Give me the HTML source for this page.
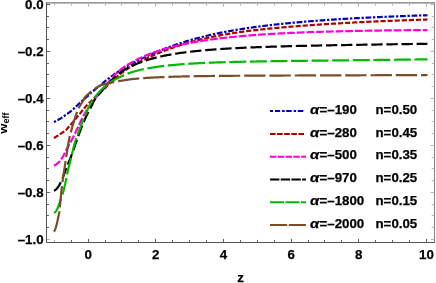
<!DOCTYPE html>
<html><head><meta charset="utf-8"><title>w_eff vs z</title>
<style>
html,body{margin:0;padding:0;background:#fff;overflow:hidden;}
body{width:436px;height:283px;position:relative;overflow:hidden;font-family:"Liberation Sans",sans-serif;font-weight:bold;color:#000;}
#wrap{position:absolute;left:0;top:0;width:436px;height:283px;will-change:transform;opacity:0.999;overflow:hidden;}
.t{position:absolute;white-space:nowrap;line-height:1;font-size:13.3px;-webkit-text-stroke:0.25px #000;}
.yl{right:392.4px;text-align:right;}
.xl{transform:translateX(-50%);}
.lg{font-size:13.3px;}
.al{display:inline-block;transform:scaleX(1.13);transform-origin:0 50%;margin-right:0.95px;font-style:italic;}
</style></head><body><div id="wrap">

<svg width="436" height="283" viewBox="0 0 436 283" style="position:absolute;left:0;top:0">
<path d="M53.90 122.09 L54.15 121.97 L54.40 121.85 L54.65 121.73 L54.90 121.61 L55.15 121.48 L55.40 121.35 L55.65 121.23 L55.90 121.10 L56.15 120.97 L56.40 120.83 L56.65 120.70 L56.90 120.56 L57.15 120.43 L57.40 120.29 L57.65 120.15 L57.90 120.01 L58.15 119.87 L58.40 119.73 L58.65 119.58 L58.90 119.44 L59.15 119.29 L59.40 119.14 L59.65 118.99 L59.90 118.84 L60.15 118.69 L60.40 118.54 L60.65 118.38 L60.90 118.23 L61.15 118.07 L61.40 117.90 L61.65 117.74 L61.90 117.57 L62.15 117.40 L62.40 117.24 L62.65 117.06 L62.90 116.89 L63.15 116.72 L63.40 116.54 L63.65 116.37 L63.90 116.19 L64.15 116.01 L64.40 115.83 L64.65 115.66 L64.90 115.48 L65.15 115.30 L65.40 115.12 L65.65 114.94 L65.90 114.76 L66.15 114.59 L66.40 114.41 L66.65 114.24 L66.90 114.06 L67.15 113.89 L67.40 113.72 L67.65 113.54 L67.90 113.37 L68.15 113.20 L68.40 113.03 L68.65 112.86 L68.90 112.68 L69.15 112.50 L69.40 112.33 L69.65 112.14 L69.90 111.96 L70.15 111.77 L70.40 111.58 L70.65 111.38 L70.90 111.18 L71.15 110.98 L71.40 110.77 L71.65 110.56 L71.90 110.34 L72.15 110.13 L72.40 109.91 L72.65 109.69 L72.90 109.46 L73.15 109.24 L73.40 109.01 L73.65 108.78 L73.90 108.55 L74.15 108.32 L74.40 108.09 L74.65 107.86 L74.90 107.62 L75.15 107.39 L75.40 107.16 L75.65 106.92 L75.90 106.69 L76.15 106.46 L76.40 106.23 L76.65 105.99 L76.90 105.75 L77.15 105.51 L77.40 105.27 L77.65 105.03 L77.90 104.78 L78.15 104.54 L78.40 104.29 L78.65 104.05 L78.90 103.80 L79.15 103.56 L79.40 103.31 L79.65 103.07 L79.90 102.83 L80.15 102.59 L80.40 102.35 L80.65 102.12 L80.90 101.88 L81.15 101.65 L81.40 101.43 L81.65 101.20 L81.90 100.98 L82.15 100.76 L82.40 100.54 L82.65 100.33 L82.90 100.11 L83.15 99.90 L83.40 99.69 L83.65 99.47 L83.90 99.26 L84.15 99.05 L84.40 98.85 L84.65 98.64 L84.90 98.43 L85.15 98.22 L85.40 98.01 L85.65 97.80 L85.90 97.59 L86.15 97.38 L86.40 97.17 L86.65 96.96 L86.90 96.74 L87.15 96.53 L87.40 96.31 L87.65 96.10 L87.90 95.88 L88.15 95.65 L88.40 95.43 L88.65 95.20 L88.90 94.97 L89.15 94.74 L89.40 94.50 L89.65 94.26 L89.90 94.01 L90.15 93.75 L90.40 93.49 L90.65 93.23 L90.90 92.98 L91.15 92.74 L91.40 92.50 L91.65 92.27 L91.90 92.05 L92.15 91.83 L92.40 91.62 L92.65 91.40 L92.90 91.19 L93.15 90.99 L93.40 90.78 L93.65 90.58 L93.90 90.38 L94.15 90.18 L94.40 89.98 L94.65 89.78 L94.90 89.58 L95.15 89.38 L95.40 89.18 L95.65 88.98 L95.90 88.78 L96.15 88.58 L96.40 88.38 L96.65 88.18 L96.90 87.98 L97.15 87.77 L97.40 87.57 L97.65 87.37 L97.90 87.17 L98.15 86.97 L98.40 86.77 L98.65 86.57 L98.90 86.37 L99.15 86.17 L99.40 85.96 L99.65 85.76 L99.90 85.55 L100.15 85.35 L100.40 85.14 L100.65 84.93 L100.90 84.72 L101.15 84.51 L101.40 84.30 L101.65 84.08 L101.90 83.87 L102.15 83.66 L102.40 83.44 L102.65 83.23 L102.90 83.02 L103.15 82.80 L103.40 82.59 L103.65 82.38 L103.90 82.17 L104.15 81.95 L104.40 81.74 L104.65 81.54 L104.90 81.33 L105.15 81.12 L105.40 80.92 L105.65 80.71 L105.90 80.51 L106.15 80.31 L106.40 80.11 L106.65 79.92 L106.90 79.72 L107.15 79.53 L107.40 79.34 L107.65 79.15 L107.90 78.96 L108.15 78.77 L108.40 78.58 L108.65 78.39 L108.90 78.21 L109.15 78.02 L109.40 77.83 L109.65 77.65 L109.90 77.47 L110.15 77.28 L110.40 77.10 L110.65 76.92 L110.90 76.74 L111.15 76.56 L111.40 76.38 L111.65 76.20 L111.90 76.02 L112.15 75.84 L112.40 75.67 L112.65 75.49 L112.90 75.31 L113.15 75.14 L113.40 74.96 L113.65 74.79 L113.90 74.62 L114.15 74.44 L114.40 74.27 L114.65 74.10 L114.90 73.93 L115.15 73.75 L115.40 73.58 L115.65 73.41 L115.90 73.24 L116.15 73.07 L116.40 72.90 L116.65 72.74 L116.90 72.57 L117.15 72.40 L117.40 72.23 L117.65 72.07 L117.90 71.90 L118.15 71.74 L118.40 71.58 L118.65 71.42 L118.90 71.26 L119.15 71.10 L119.40 70.94 L119.65 70.78 L119.90 70.62 L120.15 70.46 L120.40 70.31 L120.65 70.15 L120.90 70.00 L121.15 69.85 L121.40 69.69 L121.65 69.54 L121.90 69.39 L122.15 69.24 L122.40 69.09 L122.65 68.93 L122.90 68.78 L123.15 68.63 L123.40 68.48 L123.65 68.33 L123.90 68.19 L124.15 68.04 L124.40 67.89 L124.65 67.74 L124.90 67.59 L125.15 67.45 L125.40 67.30 L125.65 67.16 L125.90 67.01 L126.15 66.87 L126.40 66.72 L126.65 66.58 L126.90 66.44 L127.15 66.30 L127.40 66.15 L127.65 66.01 L127.90 65.87 L128.15 65.73 L128.40 65.59 L128.65 65.45 L128.90 65.32 L129.15 65.18 L129.40 65.04 L129.65 64.90 L129.90 64.77 L130.15 64.63 L130.40 64.50 L130.65 64.36 L130.90 64.23 L131.15 64.09 L131.40 63.96 L131.65 63.83 L131.90 63.70 L132.15 63.56 L132.40 63.43 L132.65 63.30 L132.90 63.17 L133.15 63.04 L133.40 62.91 L133.65 62.78 L133.90 62.65 L134.15 62.52 L134.40 62.39 L134.65 62.26 L134.90 62.13 L135.00 62.08 L136.00 61.57 L137.00 61.06 L138.00 60.56 L139.00 60.06 L140.00 59.56 L141.00 59.07 L142.00 58.59 L143.00 58.11 L144.00 57.63 L145.00 57.16 L146.00 56.69 L147.00 56.23 L148.00 55.77 L149.00 55.32 L150.00 54.87 L151.00 54.42 L152.00 53.98 L153.00 53.54 L154.00 53.11 L155.00 52.68 L156.00 52.26 L157.00 51.84 L158.00 51.42 L159.00 51.01 L160.00 50.61 L161.00 50.20 L162.00 49.80 L163.00 49.41 L164.00 49.02 L165.00 48.63 L166.00 48.25 L167.00 47.87 L168.00 47.50 L169.00 47.13 L170.00 46.76 L171.00 46.40 L172.00 46.04 L173.00 45.69 L174.00 45.34 L175.00 44.99 L176.00 44.65 L177.00 44.31 L178.00 43.97 L179.00 43.64 L180.00 43.31 L181.00 42.99 L182.00 42.67 L183.00 42.35 L184.00 42.04 L185.00 41.73 L186.00 41.42 L187.00 41.12 L188.00 40.82 L189.00 40.53 L190.00 40.23 L191.00 39.94 L192.00 39.66 L193.00 39.38 L194.00 39.10 L195.00 38.82 L196.00 38.55 L197.00 38.28 L198.00 38.01 L199.00 37.75 L200.00 37.49 L201.00 37.23 L202.00 36.98 L203.00 36.73 L204.00 36.48 L205.00 36.24 L206.00 35.99 L207.00 35.76 L208.00 35.52 L209.00 35.29 L210.00 35.06 L211.00 34.83 L212.00 34.60 L213.00 34.38 L214.00 34.16 L215.00 33.95 L216.00 33.73 L217.00 33.52 L218.00 33.31 L219.00 33.11 L220.00 32.90 L221.00 32.70 L222.00 32.50 L223.00 32.31 L224.00 32.11 L225.00 31.92 L226.00 31.73 L227.00 31.54 L228.00 31.36 L229.00 31.17 L230.00 30.99 L231.00 30.81 L232.00 30.64 L233.00 30.46 L234.00 30.29 L235.00 30.12 L236.00 29.95 L237.00 29.78 L238.00 29.62 L239.00 29.45 L240.00 29.29 L241.00 29.13 L242.00 28.97 L243.00 28.82 L244.00 28.66 L245.00 28.51 L246.00 28.36 L247.00 28.21 L248.00 28.06 L249.00 27.92 L250.00 27.77 L251.00 27.63 L252.00 27.49 L253.00 27.35 L254.00 27.21 L255.00 27.07 L256.00 26.93 L257.00 26.80 L258.00 26.67 L259.00 26.53 L260.00 26.40 L261.00 26.27 L262.00 26.15 L263.00 26.02 L264.00 25.89 L265.00 25.77 L266.00 25.65 L267.00 25.53 L268.00 25.41 L269.00 25.29 L270.00 25.17 L271.00 25.05 L272.00 24.94 L273.00 24.82 L274.00 24.71 L275.00 24.60 L276.00 24.49 L277.00 24.38 L278.00 24.27 L279.00 24.16 L280.00 24.05 L281.00 23.95 L282.00 23.84 L283.00 23.74 L284.00 23.64 L285.00 23.53 L286.00 23.43 L287.00 23.33 L288.00 23.23 L289.00 23.14 L290.00 23.04 L291.00 22.94 L292.00 22.85 L293.00 22.75 L294.00 22.66 L295.00 22.57 L296.00 22.47 L297.00 22.38 L298.00 22.29 L299.00 22.20 L300.00 22.12 L301.00 22.03 L302.00 21.94 L303.00 21.86 L304.00 21.77 L305.00 21.69 L306.00 21.60 L307.00 21.52 L308.00 21.44 L309.00 21.35 L310.00 21.27 L311.00 21.19 L312.00 21.11 L313.00 21.04 L314.00 20.96 L315.00 20.88 L316.00 20.80 L317.00 20.73 L318.00 20.65 L319.00 20.58 L320.00 20.50 L321.00 20.43 L322.00 20.36 L323.00 20.29 L324.00 20.21 L325.00 20.14 L326.00 20.07 L327.00 20.00 L328.00 19.93 L329.00 19.87 L330.00 19.80 L331.00 19.73 L332.00 19.66 L333.00 19.60 L334.00 19.53 L335.00 19.47 L336.00 19.40 L337.00 19.34 L338.00 19.28 L339.00 19.21 L340.00 19.15 L341.00 19.09 L342.00 19.03 L343.00 18.97 L344.00 18.91 L345.00 18.85 L346.00 18.79 L347.00 18.73 L348.00 18.67 L349.00 18.61 L350.00 18.55 L351.00 18.50 L352.00 18.44 L353.00 18.38 L354.00 18.33 L355.00 18.27 L356.00 18.22 L357.00 18.17 L358.00 18.11 L359.00 18.06 L360.00 18.01 L361.00 17.95 L362.00 17.90 L363.00 17.85 L364.00 17.80 L365.00 17.75 L366.00 17.70 L367.00 17.65 L368.00 17.60 L369.00 17.55 L370.00 17.50 L371.00 17.45 L372.00 17.40 L373.00 17.36 L374.00 17.31 L375.00 17.26 L376.00 17.21 L377.00 17.17 L378.00 17.12 L379.00 17.08 L380.00 17.03 L381.00 16.99 L382.00 16.94 L383.00 16.90 L384.00 16.86 L385.00 16.81 L386.00 16.77 L387.00 16.73 L388.00 16.68 L389.00 16.64 L390.00 16.60 L391.00 16.56 L392.00 16.52 L393.00 16.48 L394.00 16.44 L395.00 16.40 L396.00 16.36 L397.00 16.32 L398.00 16.28 L399.00 16.24 L400.00 16.20 L401.00 16.16 L402.00 16.13 L403.00 16.09 L404.00 16.05 L405.00 16.01 L406.00 15.98 L407.00 15.94 L408.00 15.90 L409.00 15.87 L410.00 15.83 L411.00 15.80 L412.00 15.76 L413.00 15.73 L414.00 15.69 L415.00 15.66 L416.00 15.62 L417.00 15.59 L418.00 15.56 L419.00 15.52 L420.00 15.49 L421.00 15.46 L422.00 15.42 L423.00 15.39 L424.00 15.36 L425.00 15.33 L426.00 15.30 L427.00 15.26 L427.50 15.25" fill="none" stroke="#0000b4" stroke-width="2.2" stroke-dasharray="2.317 1.712 5.741 1.743" stroke-dashoffset="0" stroke-linejoin="round"/>
<path d="M53.90 138.04 L54.15 137.89 L54.40 137.74 L54.65 137.59 L54.90 137.44 L55.15 137.29 L55.40 137.14 L55.65 136.99 L55.90 136.83 L56.15 136.68 L56.40 136.52 L56.65 136.37 L56.90 136.21 L57.15 136.05 L57.40 135.89 L57.65 135.73 L57.90 135.57 L58.15 135.41 L58.40 135.25 L58.65 135.09 L58.90 134.93 L59.15 134.76 L59.40 134.60 L59.65 134.43 L59.90 134.27 L60.15 134.10 L60.40 133.93 L60.65 133.77 L60.90 133.60 L61.15 133.44 L61.40 133.28 L61.65 133.11 L61.90 132.95 L62.15 132.79 L62.40 132.62 L62.65 132.45 L62.90 132.28 L63.15 132.11 L63.40 131.94 L63.65 131.76 L63.90 131.58 L64.15 131.40 L64.40 131.21 L64.65 131.01 L64.90 130.81 L65.15 130.61 L65.40 130.40 L65.65 130.18 L65.90 129.95 L66.15 129.72 L66.40 129.48 L66.65 129.22 L66.90 128.97 L67.15 128.70 L67.40 128.43 L67.65 128.16 L67.90 127.88 L68.15 127.60 L68.40 127.32 L68.65 127.03 L68.90 126.74 L69.15 126.45 L69.40 126.16 L69.65 125.87 L69.90 125.58 L70.15 125.30 L70.40 125.01 L70.65 124.73 L70.90 124.45 L71.15 124.16 L71.40 123.87 L71.65 123.58 L71.90 123.29 L72.15 123.00 L72.40 122.71 L72.65 122.42 L72.90 122.12 L73.15 121.82 L73.40 121.53 L73.65 121.23 L73.90 120.93 L74.15 120.63 L74.40 120.33 L74.65 120.03 L74.90 119.73 L75.15 119.42 L75.40 119.12 L75.65 118.82 L75.90 118.51 L76.15 118.21 L76.40 117.90 L76.65 117.60 L76.90 117.29 L77.15 116.99 L77.40 116.68 L77.65 116.38 L77.90 116.07 L78.15 115.77 L78.40 115.46 L78.65 115.16 L78.90 114.85 L79.15 114.55 L79.40 114.25 L79.65 113.94 L79.90 113.64 L80.15 113.34 L80.40 113.04 L80.65 112.73 L80.90 112.42 L81.15 112.12 L81.40 111.81 L81.65 111.50 L81.90 111.18 L82.15 110.87 L82.40 110.56 L82.65 110.25 L82.90 109.94 L83.15 109.62 L83.40 109.31 L83.65 109.01 L83.90 108.70 L84.15 108.40 L84.40 108.09 L84.65 107.79 L84.90 107.50 L85.15 107.20 L85.40 106.91 L85.65 106.63 L85.90 106.34 L86.15 106.06 L86.40 105.79 L86.65 105.52 L86.90 105.26 L87.15 104.99 L87.40 104.73 L87.65 104.48 L87.90 104.22 L88.15 103.97 L88.40 103.72 L88.65 103.47 L88.90 103.22 L89.15 102.98 L89.40 102.73 L89.65 102.49 L89.90 102.25 L90.15 102.01 L90.40 101.77 L90.65 101.53 L90.90 101.28 L91.15 101.04 L91.40 100.80 L91.65 100.56 L91.90 100.32 L92.15 100.08 L92.40 99.84 L92.65 99.60 L92.90 99.36 L93.15 99.12 L93.40 98.88 L93.65 98.65 L93.90 98.41 L94.15 98.18 L94.40 97.94 L94.65 97.71 L94.90 97.47 L95.15 97.24 L95.40 97.01 L95.65 96.77 L95.90 96.54 L96.15 96.31 L96.40 96.08 L96.65 95.84 L96.90 95.61 L97.15 95.38 L97.40 95.15 L97.65 94.91 L97.90 94.68 L98.15 94.45 L98.40 94.22 L98.65 93.99 L98.90 93.75 L99.15 93.52 L99.40 93.29 L99.65 93.05 L99.90 92.82 L100.15 92.59 L100.40 92.35 L100.65 92.12 L100.90 91.89 L101.15 91.66 L101.40 91.43 L101.65 91.20 L101.90 90.97 L102.15 90.74 L102.40 90.51 L102.65 90.28 L102.90 90.05 L103.15 89.82 L103.40 89.58 L103.65 89.35 L103.90 89.12 L104.15 88.89 L104.40 88.66 L104.65 88.43 L104.90 88.19 L105.15 87.96 L105.40 87.73 L105.65 87.49 L105.90 87.25 L106.15 87.02 L106.40 86.78 L106.65 86.54 L106.90 86.30 L107.15 86.06 L107.40 85.82 L107.65 85.58 L107.90 85.33 L108.15 85.08 L108.40 84.83 L108.65 84.59 L108.90 84.34 L109.15 84.09 L109.40 83.84 L109.65 83.59 L109.90 83.34 L110.15 83.09 L110.40 82.84 L110.65 82.60 L110.90 82.36 L111.15 82.11 L111.40 81.87 L111.65 81.64 L111.90 81.40 L112.15 81.17 L112.40 80.93 L112.65 80.70 L112.90 80.46 L113.15 80.23 L113.40 80.00 L113.65 79.76 L113.90 79.53 L114.15 79.30 L114.40 79.07 L114.65 78.84 L114.90 78.61 L115.15 78.38 L115.40 78.15 L115.65 77.92 L115.90 77.70 L116.15 77.47 L116.40 77.25 L116.65 77.03 L116.90 76.80 L117.15 76.58 L117.40 76.37 L117.65 76.15 L117.90 75.93 L118.15 75.72 L118.40 75.51 L118.65 75.30 L118.90 75.09 L119.15 74.89 L119.40 74.68 L119.65 74.48 L119.90 74.28 L120.15 74.09 L120.40 73.89 L120.65 73.70 L120.90 73.50 L121.15 73.31 L121.40 73.12 L121.65 72.93 L121.90 72.74 L122.15 72.55 L122.40 72.36 L122.65 72.18 L122.90 71.99 L123.15 71.81 L123.40 71.62 L123.65 71.44 L123.90 71.26 L124.15 71.08 L124.40 70.90 L124.65 70.73 L124.90 70.55 L125.15 70.38 L125.40 70.21 L125.65 70.03 L125.90 69.86 L126.15 69.69 L126.40 69.53 L126.65 69.36 L126.90 69.19 L127.15 69.03 L127.40 68.87 L127.65 68.70 L127.90 68.54 L128.15 68.38 L128.40 68.23 L128.65 68.07 L128.90 67.91 L129.15 67.76 L129.40 67.60 L129.65 67.45 L129.90 67.30 L130.15 67.15 L130.40 67.00 L130.65 66.85 L130.90 66.70 L131.15 66.56 L131.40 66.41 L131.65 66.26 L131.90 66.12 L132.15 65.97 L132.40 65.83 L132.65 65.69 L132.90 65.55 L133.15 65.40 L133.40 65.26 L133.65 65.12 L133.90 64.98 L134.15 64.84 L134.40 64.70 L134.65 64.56 L134.90 64.43 L135.00 64.37 L136.00 63.82 L137.00 63.28 L138.00 62.74 L139.00 62.21 L140.00 61.68 L141.00 61.16 L142.00 60.65 L143.00 60.15 L144.00 59.65 L145.00 59.16 L146.00 58.67 L147.00 58.19 L148.00 57.72 L149.00 57.25 L150.00 56.79 L151.00 56.34 L152.00 55.89 L153.00 55.44 L154.00 55.00 L155.00 54.57 L156.00 54.14 L157.00 53.71 L158.00 53.30 L159.00 52.88 L160.00 52.47 L161.00 52.07 L162.00 51.67 L163.00 51.28 L164.00 50.89 L165.00 50.50 L166.00 50.12 L167.00 49.75 L168.00 49.38 L169.00 49.01 L170.00 48.65 L171.00 48.29 L172.00 47.94 L173.00 47.59 L174.00 47.25 L175.00 46.91 L176.00 46.57 L177.00 46.24 L178.00 45.91 L179.00 45.59 L180.00 45.27 L181.00 44.96 L182.00 44.65 L183.00 44.34 L184.00 44.03 L185.00 43.74 L186.00 43.44 L187.00 43.15 L188.00 42.86 L189.00 42.58 L190.00 42.29 L191.00 42.02 L192.00 41.74 L193.00 41.47 L194.00 41.21 L195.00 40.94 L196.00 40.68 L197.00 40.43 L198.00 40.17 L199.00 39.92 L200.00 39.68 L201.00 39.43 L202.00 39.19 L203.00 38.96 L204.00 38.72 L205.00 38.49 L206.00 38.26 L207.00 38.04 L208.00 37.82 L209.00 37.60 L210.00 37.38 L211.00 37.17 L212.00 36.96 L213.00 36.75 L214.00 36.54 L215.00 36.34 L216.00 36.14 L217.00 35.95 L218.00 35.75 L219.00 35.56 L220.00 35.37 L221.00 35.19 L222.00 35.00 L223.00 34.82 L224.00 34.64 L225.00 34.47 L226.00 34.29 L227.00 34.12 L228.00 33.95 L229.00 33.79 L230.00 33.62 L231.00 33.46 L232.00 33.30 L233.00 33.15 L234.00 32.99 L235.00 32.84 L236.00 32.69 L237.00 32.54 L238.00 32.39 L239.00 32.25 L240.00 32.11 L241.00 31.97 L242.00 31.83 L243.00 31.69 L244.00 31.56 L245.00 31.42 L246.00 31.29 L247.00 31.16 L248.00 31.03 L249.00 30.91 L250.00 30.78 L251.00 30.66 L252.00 30.53 L253.00 30.41 L254.00 30.29 L255.00 30.18 L256.00 30.06 L257.00 29.94 L258.00 29.83 L259.00 29.72 L260.00 29.61 L261.00 29.50 L262.00 29.39 L263.00 29.28 L264.00 29.17 L265.00 29.07 L266.00 28.96 L267.00 28.86 L268.00 28.76 L269.00 28.66 L270.00 28.56 L271.00 28.46 L272.00 28.36 L273.00 28.27 L274.00 28.17 L275.00 28.07 L276.00 27.98 L277.00 27.89 L278.00 27.80 L279.00 27.70 L280.00 27.61 L281.00 27.52 L282.00 27.44 L283.00 27.35 L284.00 27.26 L285.00 27.17 L286.00 27.09 L287.00 27.00 L288.00 26.92 L289.00 26.84 L290.00 26.75 L291.00 26.67 L292.00 26.59 L293.00 26.51 L294.00 26.43 L295.00 26.35 L296.00 26.27 L297.00 26.19 L298.00 26.12 L299.00 26.04 L300.00 25.96 L301.00 25.89 L302.00 25.81 L303.00 25.74 L304.00 25.66 L305.00 25.59 L306.00 25.52 L307.00 25.44 L308.00 25.37 L309.00 25.30 L310.00 25.23 L311.00 25.16 L312.00 25.09 L313.00 25.02 L314.00 24.95 L315.00 24.88 L316.00 24.81 L317.00 24.74 L318.00 24.67 L319.00 24.61 L320.00 24.54 L321.00 24.47 L322.00 24.41 L323.00 24.34 L324.00 24.28 L325.00 24.21 L326.00 24.15 L327.00 24.09 L328.00 24.02 L329.00 23.96 L330.00 23.90 L331.00 23.84 L332.00 23.77 L333.00 23.71 L334.00 23.65 L335.00 23.59 L336.00 23.53 L337.00 23.47 L338.00 23.41 L339.00 23.35 L340.00 23.30 L341.00 23.24 L342.00 23.18 L343.00 23.12 L344.00 23.07 L345.00 23.01 L346.00 22.95 L347.00 22.90 L348.00 22.84 L349.00 22.79 L350.00 22.73 L351.00 22.68 L352.00 22.63 L353.00 22.57 L354.00 22.52 L355.00 22.47 L356.00 22.41 L357.00 22.36 L358.00 22.31 L359.00 22.26 L360.00 22.21 L361.00 22.16 L362.00 22.11 L363.00 22.06 L364.00 22.01 L365.00 21.96 L366.00 21.91 L367.00 21.86 L368.00 21.81 L369.00 21.77 L370.00 21.72 L371.00 21.67 L372.00 21.63 L373.00 21.58 L374.00 21.53 L375.00 21.49 L376.00 21.44 L377.00 21.40 L378.00 21.35 L379.00 21.31 L380.00 21.26 L381.00 21.22 L382.00 21.18 L383.00 21.13 L384.00 21.09 L385.00 21.05 L386.00 21.00 L387.00 20.96 L388.00 20.92 L389.00 20.88 L390.00 20.84 L391.00 20.80 L392.00 20.76 L393.00 20.72 L394.00 20.68 L395.00 20.64 L396.00 20.60 L397.00 20.56 L398.00 20.52 L399.00 20.48 L400.00 20.44 L401.00 20.40 L402.00 20.37 L403.00 20.33 L404.00 20.29 L405.00 20.26 L406.00 20.22 L407.00 20.18 L408.00 20.15 L409.00 20.11 L410.00 20.08 L411.00 20.04 L412.00 20.01 L413.00 19.97 L414.00 19.94 L415.00 19.90 L416.00 19.87 L417.00 19.84 L418.00 19.80 L419.00 19.77 L420.00 19.74 L421.00 19.70 L422.00 19.67 L423.00 19.64 L424.00 19.61 L425.00 19.58 L426.00 19.55 L427.00 19.51 L427.50 19.50" fill="none" stroke="#ac0000" stroke-width="2.2" stroke-dasharray="5.194 1.898" stroke-dashoffset="0" stroke-linejoin="round"/>
<path d="M53.90 165.66 L54.15 165.56 L54.40 165.46 L54.65 165.33 L54.90 165.20 L55.15 165.06 L55.40 164.91 L55.65 164.75 L55.90 164.58 L56.15 164.40 L56.40 164.22 L56.65 164.02 L56.90 163.82 L57.15 163.62 L57.40 163.40 L57.65 163.18 L57.90 162.95 L58.15 162.72 L58.40 162.49 L58.65 162.24 L58.90 162.00 L59.15 161.75 L59.40 161.49 L59.65 161.23 L59.90 160.95 L60.15 160.65 L60.40 160.35 L60.65 160.03 L60.90 159.70 L61.15 159.36 L61.40 159.01 L61.65 158.64 L61.90 158.27 L62.15 157.89 L62.40 157.49 L62.65 157.09 L62.90 156.68 L63.15 156.26 L63.40 155.82 L63.65 155.34 L63.90 154.82 L64.15 154.27 L64.40 153.70 L64.65 153.13 L64.90 152.56 L65.15 152.02 L65.40 151.50 L65.65 151.01 L65.90 150.53 L66.15 150.06 L66.40 149.59 L66.65 149.14 L66.90 148.69 L67.15 148.24 L67.40 147.80 L67.65 147.36 L67.90 146.93 L68.15 146.49 L68.40 146.06 L68.65 145.62 L68.90 145.19 L69.15 144.75 L69.40 144.31 L69.65 143.86 L69.90 143.41 L70.15 142.95 L70.40 142.49 L70.65 142.02 L70.90 141.54 L71.15 141.06 L71.40 140.58 L71.65 140.10 L71.90 139.61 L72.15 139.13 L72.40 138.64 L72.65 138.14 L72.90 137.65 L73.15 137.15 L73.40 136.66 L73.65 136.16 L73.90 135.66 L74.15 135.16 L74.40 134.65 L74.65 134.15 L74.90 133.64 L75.15 133.14 L75.40 132.63 L75.65 132.13 L75.90 131.62 L76.15 131.11 L76.40 130.61 L76.65 130.10 L76.90 129.59 L77.15 129.08 L77.40 128.56 L77.65 128.03 L77.90 127.50 L78.15 126.96 L78.40 126.42 L78.65 125.88 L78.90 125.34 L79.15 124.79 L79.40 124.25 L79.65 123.70 L79.90 123.16 L80.15 122.61 L80.40 122.07 L80.65 121.53 L80.90 121.00 L81.15 120.47 L81.40 119.94 L81.65 119.43 L81.90 118.91 L82.15 118.41 L82.40 117.91 L82.65 117.42 L82.90 116.94 L83.15 116.47 L83.40 116.01 L83.65 115.56 L83.90 115.13 L84.15 114.70 L84.40 114.27 L84.65 113.85 L84.90 113.43 L85.15 113.01 L85.40 112.60 L85.65 112.19 L85.90 111.79 L86.15 111.38 L86.40 110.99 L86.65 110.59 L86.90 110.20 L87.15 109.81 L87.40 109.43 L87.65 109.04 L87.90 108.66 L88.15 108.29 L88.40 107.91 L88.65 107.54 L88.90 107.17 L89.15 106.81 L89.40 106.44 L89.65 106.08 L89.90 105.72 L90.15 105.37 L90.40 105.01 L90.65 104.66 L90.90 104.31 L91.15 103.96 L91.40 103.61 L91.65 103.27 L91.90 102.92 L92.15 102.58 L92.40 102.24 L92.65 101.90 L92.90 101.56 L93.15 101.23 L93.40 100.89 L93.65 100.56 L93.90 100.22 L94.15 99.89 L94.40 99.56 L94.65 99.23 L94.90 98.90 L95.15 98.57 L95.40 98.24 L95.65 97.91 L95.90 97.59 L96.15 97.26 L96.40 96.93 L96.65 96.60 L96.90 96.28 L97.15 95.96 L97.40 95.64 L97.65 95.32 L97.90 95.01 L98.15 94.70 L98.40 94.39 L98.65 94.08 L98.90 93.78 L99.15 93.48 L99.40 93.17 L99.65 92.87 L99.90 92.58 L100.15 92.28 L100.40 91.98 L100.65 91.69 L100.90 91.39 L101.15 91.10 L101.40 90.81 L101.65 90.52 L101.90 90.23 L102.15 89.94 L102.40 89.65 L102.65 89.36 L102.90 89.07 L103.15 88.78 L103.40 88.49 L103.65 88.20 L103.90 87.91 L104.15 87.62 L104.40 87.33 L104.65 87.04 L104.90 86.75 L105.15 86.46 L105.40 86.17 L105.65 85.87 L105.90 85.58 L106.15 85.28 L106.40 84.98 L106.65 84.68 L106.90 84.38 L107.15 84.07 L107.40 83.77 L107.65 83.45 L107.90 83.14 L108.15 82.82 L108.40 82.50 L108.65 82.18 L108.90 81.86 L109.15 81.54 L109.40 81.22 L109.65 80.89 L109.90 80.57 L110.15 80.25 L110.40 79.92 L110.65 79.60 L110.90 79.29 L111.15 78.97 L111.40 78.65 L111.65 78.34 L111.90 78.03 L112.15 77.73 L112.40 77.43 L112.65 77.13 L112.90 76.84 L113.15 76.55 L113.40 76.27 L113.65 75.99 L113.90 75.72 L114.15 75.46 L114.40 75.20 L114.65 74.95 L114.90 74.70 L115.15 74.46 L115.40 74.22 L115.65 73.97 L115.90 73.73 L116.15 73.50 L116.40 73.26 L116.65 73.03 L116.90 72.80 L117.15 72.57 L117.40 72.34 L117.65 72.11 L117.90 71.89 L118.15 71.67 L118.40 71.45 L118.65 71.23 L118.90 71.01 L119.15 70.80 L119.40 70.59 L119.65 70.38 L119.90 70.17 L120.15 69.97 L120.40 69.76 L120.65 69.56 L120.90 69.36 L121.15 69.17 L121.40 68.97 L121.65 68.78 L121.90 68.59 L122.15 68.40 L122.40 68.22 L122.65 68.03 L122.90 67.85 L123.15 67.67 L123.40 67.49 L123.65 67.31 L123.90 67.14 L124.15 66.97 L124.40 66.80 L124.65 66.63 L124.90 66.46 L125.15 66.30 L125.40 66.14 L125.65 65.97 L125.90 65.81 L126.15 65.66 L126.40 65.50 L126.65 65.34 L126.90 65.19 L127.15 65.04 L127.40 64.89 L127.65 64.74 L127.90 64.59 L128.15 64.44 L128.40 64.29 L128.65 64.15 L128.90 64.00 L129.15 63.86 L129.40 63.72 L129.65 63.57 L129.90 63.43 L130.15 63.29 L130.40 63.15 L130.65 63.01 L130.90 62.87 L131.15 62.73 L131.40 62.59 L131.65 62.45 L131.90 62.32 L132.15 62.18 L132.40 62.04 L132.65 61.91 L132.90 61.77 L133.15 61.63 L133.40 61.50 L133.65 61.36 L133.90 61.23 L134.15 61.09 L134.40 60.96 L134.65 60.83 L134.90 60.70 L135.00 60.64 L136.00 60.12 L137.00 59.60 L138.00 59.09 L139.00 58.60 L140.00 58.12 L141.00 57.65 L142.00 57.19 L143.00 56.74 L144.00 56.30 L145.00 55.87 L146.00 55.45 L147.00 55.04 L148.00 54.63 L149.00 54.24 L150.00 53.85 L151.00 53.47 L152.00 53.09 L153.00 52.73 L154.00 52.37 L155.00 52.02 L156.00 51.67 L157.00 51.33 L158.00 51.00 L159.00 50.67 L160.00 50.35 L161.00 50.04 L162.00 49.73 L163.00 49.42 L164.00 49.13 L165.00 48.83 L166.00 48.54 L167.00 48.26 L168.00 47.98 L169.00 47.71 L170.00 47.44 L171.00 47.18 L172.00 46.92 L173.00 46.66 L174.00 46.41 L175.00 46.17 L176.00 45.93 L177.00 45.69 L178.00 45.45 L179.00 45.22 L180.00 45.00 L181.00 44.77 L182.00 44.55 L183.00 44.34 L184.00 44.13 L185.00 43.92 L186.00 43.71 L187.00 43.51 L188.00 43.31 L189.00 43.12 L190.00 42.92 L191.00 42.73 L192.00 42.55 L193.00 42.36 L194.00 42.18 L195.00 42.00 L196.00 41.83 L197.00 41.66 L198.00 41.49 L199.00 41.32 L200.00 41.15 L201.00 40.99 L202.00 40.83 L203.00 40.68 L204.00 40.52 L205.00 40.37 L206.00 40.22 L207.00 40.07 L208.00 39.92 L209.00 39.78 L210.00 39.64 L211.00 39.50 L212.00 39.36 L213.00 39.23 L214.00 39.09 L215.00 38.96 L216.00 38.83 L217.00 38.70 L218.00 38.58 L219.00 38.46 L220.00 38.33 L221.00 38.21 L222.00 38.09 L223.00 37.98 L224.00 37.86 L225.00 37.75 L226.00 37.64 L227.00 37.53 L228.00 37.42 L229.00 37.31 L230.00 37.21 L231.00 37.10 L232.00 37.00 L233.00 36.90 L234.00 36.80 L235.00 36.70 L236.00 36.61 L237.00 36.51 L238.00 36.42 L239.00 36.33 L240.00 36.23 L241.00 36.14 L242.00 36.06 L243.00 35.97 L244.00 35.88 L245.00 35.80 L246.00 35.71 L247.00 35.63 L248.00 35.55 L249.00 35.47 L250.00 35.39 L251.00 35.31 L252.00 35.24 L253.00 35.16 L254.00 35.08 L255.00 35.01 L256.00 34.94 L257.00 34.87 L258.00 34.79 L259.00 34.72 L260.00 34.66 L261.00 34.59 L262.00 34.52 L263.00 34.45 L264.00 34.39 L265.00 34.32 L266.00 34.26 L267.00 34.20 L268.00 34.14 L269.00 34.07 L270.00 34.01 L271.00 33.96 L272.00 33.90 L273.00 33.84 L274.00 33.78 L275.00 33.72 L276.00 33.67 L277.00 33.61 L278.00 33.56 L279.00 33.51 L280.00 33.45 L281.00 33.40 L282.00 33.35 L283.00 33.30 L284.00 33.25 L285.00 33.20 L286.00 33.15 L287.00 33.10 L288.00 33.06 L289.00 33.01 L290.00 32.96 L291.00 32.92 L292.00 32.87 L293.00 32.83 L294.00 32.78 L295.00 32.74 L296.00 32.70 L297.00 32.66 L298.00 32.61 L299.00 32.57 L300.00 32.53 L301.00 32.49 L302.00 32.45 L303.00 32.41 L304.00 32.37 L305.00 32.34 L306.00 32.30 L307.00 32.26 L308.00 32.23 L309.00 32.19 L310.00 32.15 L311.00 32.12 L312.00 32.08 L313.00 32.05 L314.00 32.02 L315.00 31.98 L316.00 31.95 L317.00 31.92 L318.00 31.89 L319.00 31.85 L320.00 31.82 L321.00 31.79 L322.00 31.76 L323.00 31.73 L324.00 31.70 L325.00 31.67 L326.00 31.64 L327.00 31.61 L328.00 31.59 L329.00 31.56 L330.00 31.53 L331.00 31.50 L332.00 31.48 L333.00 31.45 L334.00 31.42 L335.00 31.40 L336.00 31.37 L337.00 31.35 L338.00 31.32 L339.00 31.30 L340.00 31.28 L341.00 31.25 L342.00 31.23 L343.00 31.20 L344.00 31.18 L345.00 31.16 L346.00 31.14 L347.00 31.12 L348.00 31.09 L349.00 31.07 L350.00 31.05 L351.00 31.03 L352.00 31.01 L353.00 30.99 L354.00 30.97 L355.00 30.95 L356.00 30.93 L357.00 30.91 L358.00 30.89 L359.00 30.87 L360.00 30.86 L361.00 30.84 L362.00 30.82 L363.00 30.80 L364.00 30.78 L365.00 30.77 L366.00 30.75 L367.00 30.73 L368.00 30.72 L369.00 30.70 L370.00 30.68 L371.00 30.67 L372.00 30.65 L373.00 30.64 L374.00 30.62 L375.00 30.61 L376.00 30.59 L377.00 30.58 L378.00 30.56 L379.00 30.55 L380.00 30.54 L381.00 30.52 L382.00 30.51 L383.00 30.49 L384.00 30.48 L385.00 30.47 L386.00 30.46 L387.00 30.44 L388.00 30.43 L389.00 30.42 L390.00 30.41 L391.00 30.39 L392.00 30.38 L393.00 30.37 L394.00 30.36 L395.00 30.35 L396.00 30.34 L397.00 30.33 L398.00 30.32 L399.00 30.31 L400.00 30.30 L401.00 30.28 L402.00 30.27 L403.00 30.26 L404.00 30.26 L405.00 30.25 L406.00 30.24 L407.00 30.23 L408.00 30.22 L409.00 30.21 L410.00 30.20 L411.00 30.19 L412.00 30.18 L413.00 30.17 L414.00 30.17 L415.00 30.16 L416.00 30.15 L417.00 30.14 L418.00 30.13 L419.00 30.13 L420.00 30.12 L421.00 30.11 L422.00 30.10 L423.00 30.10 L424.00 30.09 L425.00 30.08 L426.00 30.08 L427.00 30.07 L427.50 30.07" fill="none" stroke="#ff00d8" stroke-width="2.2" stroke-dasharray="7.736 1.959" stroke-dashoffset="0" stroke-linejoin="round"/>
<path d="M53.90 190.80 L54.15 190.68 L54.40 190.55 L54.65 190.40 L54.90 190.23 L55.15 190.06 L55.40 189.88 L55.65 189.68 L55.90 189.47 L56.15 189.23 L56.40 188.98 L56.65 188.72 L56.90 188.44 L57.15 188.16 L57.40 187.86 L57.65 187.55 L57.90 187.22 L58.15 186.87 L58.40 186.51 L58.65 186.14 L58.90 185.76 L59.15 185.36 L59.40 184.94 L59.65 184.51 L59.90 184.06 L60.15 183.59 L60.40 183.11 L60.65 182.61 L60.90 182.09 L61.15 181.55 L61.40 180.99 L61.65 180.41 L61.90 179.81 L62.15 179.20 L62.40 178.58 L62.65 177.94 L62.90 177.29 L63.15 176.64 L63.40 175.97 L63.65 175.31 L63.90 174.64 L64.15 173.97 L64.40 173.31 L64.65 172.65 L64.90 171.99 L65.15 171.34 L65.40 170.70 L65.65 170.06 L65.90 169.43 L66.15 168.79 L66.40 168.14 L66.65 167.50 L66.90 166.86 L67.15 166.22 L67.40 165.58 L67.65 164.93 L67.90 164.29 L68.15 163.65 L68.40 163.02 L68.65 162.38 L68.90 161.75 L69.15 161.12 L69.40 160.51 L69.65 159.90 L69.90 159.29 L70.15 158.68 L70.40 158.07 L70.65 157.46 L70.90 156.84 L71.15 156.21 L71.40 155.56 L71.65 154.90 L71.90 154.23 L72.15 153.55 L72.40 152.85 L72.65 152.15 L72.90 151.44 L73.15 150.72 L73.40 150.00 L73.65 149.28 L73.90 148.55 L74.15 147.82 L74.40 147.10 L74.65 146.38 L74.90 145.66 L75.15 144.94 L75.40 144.23 L75.65 143.51 L75.90 142.79 L76.15 142.07 L76.40 141.34 L76.65 140.62 L76.90 139.90 L77.15 139.17 L77.40 138.45 L77.65 137.74 L77.90 137.03 L78.15 136.33 L78.40 135.63 L78.65 134.94 L78.90 134.27 L79.15 133.60 L79.40 132.94 L79.65 132.27 L79.90 131.61 L80.15 130.96 L80.40 130.30 L80.65 129.65 L80.90 129.00 L81.15 128.36 L81.40 127.72 L81.65 127.08 L81.90 126.45 L82.15 125.82 L82.40 125.19 L82.65 124.58 L82.90 123.96 L83.15 123.35 L83.40 122.75 L83.65 122.15 L83.90 121.56 L84.15 120.98 L84.40 120.40 L84.65 119.83 L84.90 119.27 L85.15 118.71 L85.40 118.16 L85.65 117.62 L85.90 117.09 L86.15 116.57 L86.40 116.05 L86.65 115.54 L86.90 115.03 L87.15 114.53 L87.40 114.04 L87.65 113.55 L87.90 113.06 L88.15 112.57 L88.40 112.09 L88.65 111.61 L88.90 111.13 L89.15 110.66 L89.40 110.18 L89.65 109.70 L89.90 109.22 L90.15 108.74 L90.40 108.26 L90.65 107.78 L90.90 107.29 L91.15 106.80 L91.40 106.30 L91.65 105.79 L91.90 105.28 L92.15 104.75 L92.40 104.22 L92.65 103.68 L92.90 103.15 L93.15 102.63 L93.40 102.12 L93.65 101.62 L93.90 101.14 L94.15 100.69 L94.40 100.26 L94.65 99.86 L94.90 99.48 L95.15 99.10 L95.40 98.74 L95.65 98.39 L95.90 98.04 L96.15 97.71 L96.40 97.38 L96.65 97.06 L96.90 96.74 L97.15 96.43 L97.40 96.13 L97.65 95.82 L97.90 95.53 L98.15 95.23 L98.40 94.93 L98.65 94.64 L98.90 94.34 L99.15 94.04 L99.40 93.74 L99.65 93.44 L99.90 93.14 L100.15 92.84 L100.40 92.54 L100.65 92.24 L100.90 91.94 L101.15 91.65 L101.40 91.35 L101.65 91.06 L101.90 90.77 L102.15 90.48 L102.40 90.19 L102.65 89.90 L102.90 89.62 L103.15 89.33 L103.40 89.05 L103.65 88.77 L103.90 88.49 L104.15 88.21 L104.40 87.93 L104.65 87.65 L104.90 87.37 L105.15 87.10 L105.40 86.82 L105.65 86.55 L105.90 86.28 L106.15 86.00 L106.40 85.73 L106.65 85.46 L106.90 85.19 L107.15 84.92 L107.40 84.65 L107.65 84.38 L107.90 84.11 L108.15 83.84 L108.40 83.58 L108.65 83.31 L108.90 83.04 L109.15 82.77 L109.40 82.51 L109.65 82.24 L109.90 81.98 L110.15 81.72 L110.40 81.45 L110.65 81.19 L110.90 80.93 L111.15 80.68 L111.40 80.42 L111.65 80.16 L111.90 79.91 L112.15 79.66 L112.40 79.41 L112.65 79.16 L112.90 78.91 L113.15 78.67 L113.40 78.43 L113.65 78.19 L113.90 77.95 L114.15 77.72 L114.40 77.48 L114.65 77.25 L114.90 77.03 L115.15 76.80 L115.40 76.57 L115.65 76.34 L115.90 76.12 L116.15 75.89 L116.40 75.67 L116.65 75.45 L116.90 75.23 L117.15 75.01 L117.40 74.79 L117.65 74.58 L117.90 74.37 L118.15 74.16 L118.40 73.95 L118.65 73.75 L118.90 73.54 L119.15 73.35 L119.40 73.15 L119.65 72.96 L119.90 72.77 L120.15 72.59 L120.40 72.41 L120.65 72.23 L120.90 72.06 L121.15 71.89 L121.40 71.72 L121.65 71.56 L121.90 71.39 L122.15 71.23 L122.40 71.07 L122.65 70.91 L122.90 70.76 L123.15 70.60 L123.40 70.45 L123.65 70.29 L123.90 70.14 L124.15 69.99 L124.40 69.84 L124.65 69.70 L124.90 69.55 L125.15 69.41 L125.40 69.27 L125.65 69.12 L125.90 68.98 L126.15 68.84 L126.40 68.71 L126.65 68.57 L126.90 68.43 L127.15 68.30 L127.40 68.17 L127.65 68.04 L127.90 67.90 L128.15 67.77 L128.40 67.65 L128.65 67.52 L128.90 67.39 L129.15 67.27 L129.40 67.14 L129.65 67.02 L129.90 66.89 L130.15 66.77 L130.40 66.65 L130.65 66.53 L130.90 66.41 L131.15 66.29 L131.40 66.18 L131.65 66.06 L131.90 65.94 L132.15 65.83 L132.40 65.71 L132.65 65.60 L132.90 65.48 L133.15 65.37 L133.40 65.26 L133.65 65.15 L133.90 65.04 L134.15 64.93 L134.40 64.82 L134.65 64.71 L134.90 64.60 L135.00 64.56 L136.00 64.13 L137.00 63.72 L138.00 63.31 L139.00 62.91 L140.00 62.53 L141.00 62.15 L142.00 61.79 L143.00 61.43 L144.00 61.09 L145.00 60.75 L146.00 60.43 L147.00 60.11 L148.00 59.80 L149.00 59.50 L150.00 59.20 L151.00 58.92 L152.00 58.64 L153.00 58.37 L154.00 58.10 L155.00 57.84 L156.00 57.59 L157.00 57.34 L158.00 57.10 L159.00 56.87 L160.00 56.64 L161.00 56.42 L162.00 56.20 L163.00 55.99 L164.00 55.78 L165.00 55.58 L166.00 55.38 L167.00 55.19 L168.00 55.00 L169.00 54.81 L170.00 54.63 L171.00 54.46 L172.00 54.28 L173.00 54.11 L174.00 53.95 L175.00 53.79 L176.00 53.63 L177.00 53.48 L178.00 53.32 L179.00 53.18 L180.00 53.03 L181.00 52.89 L182.00 52.75 L183.00 52.61 L184.00 52.48 L185.00 52.35 L186.00 52.22 L187.00 52.10 L188.00 51.98 L189.00 51.86 L190.00 51.74 L191.00 51.62 L192.00 51.51 L193.00 51.40 L194.00 51.29 L195.00 51.18 L196.00 51.08 L197.00 50.98 L198.00 50.87 L199.00 50.78 L200.00 50.68 L201.00 50.58 L202.00 50.49 L203.00 50.40 L204.00 50.31 L205.00 50.22 L206.00 50.13 L207.00 50.05 L208.00 49.97 L209.00 49.88 L210.00 49.80 L211.00 49.73 L212.00 49.65 L213.00 49.57 L214.00 49.50 L215.00 49.42 L216.00 49.35 L217.00 49.28 L218.00 49.21 L219.00 49.14 L220.00 49.07 L221.00 49.01 L222.00 48.94 L223.00 48.88 L224.00 48.81 L225.00 48.75 L226.00 48.69 L227.00 48.63 L228.00 48.57 L229.00 48.51 L230.00 48.46 L231.00 48.40 L232.00 48.34 L233.00 48.29 L234.00 48.24 L235.00 48.18 L236.00 48.13 L237.00 48.08 L238.00 48.03 L239.00 47.98 L240.00 47.93 L241.00 47.88 L242.00 47.84 L243.00 47.79 L244.00 47.74 L245.00 47.70 L246.00 47.65 L247.00 47.61 L248.00 47.57 L249.00 47.52 L250.00 47.48 L251.00 47.44 L252.00 47.40 L253.00 47.36 L254.00 47.32 L255.00 47.28 L256.00 47.24 L257.00 47.20 L258.00 47.16 L259.00 47.12 L260.00 47.09 L261.00 47.05 L262.00 47.02 L263.00 46.98 L264.00 46.95 L265.00 46.91 L266.00 46.88 L267.00 46.84 L268.00 46.81 L269.00 46.78 L270.00 46.74 L271.00 46.71 L272.00 46.68 L273.00 46.65 L274.00 46.62 L275.00 46.59 L276.00 46.56 L277.00 46.53 L278.00 46.50 L279.00 46.47 L280.00 46.44 L281.00 46.41 L282.00 46.38 L283.00 46.36 L284.00 46.33 L285.00 46.30 L286.00 46.27 L287.00 46.25 L288.00 46.22 L289.00 46.19 L290.00 46.17 L291.00 46.14 L292.00 46.12 L293.00 46.09 L294.00 46.07 L295.00 46.04 L296.00 46.02 L297.00 45.99 L298.00 45.97 L299.00 45.95 L300.00 45.92 L301.00 45.90 L302.00 45.88 L303.00 45.85 L304.00 45.83 L305.00 45.81 L306.00 45.78 L307.00 45.76 L308.00 45.74 L309.00 45.72 L310.00 45.70 L311.00 45.68 L312.00 45.65 L313.00 45.63 L314.00 45.61 L315.00 45.59 L316.00 45.57 L317.00 45.55 L318.00 45.53 L319.00 45.51 L320.00 45.49 L321.00 45.47 L322.00 45.45 L323.00 45.43 L324.00 45.41 L325.00 45.39 L326.00 45.37 L327.00 45.35 L328.00 45.33 L329.00 45.32 L330.00 45.30 L331.00 45.28 L332.00 45.26 L333.00 45.24 L334.00 45.22 L335.00 45.21 L336.00 45.19 L337.00 45.17 L338.00 45.15 L339.00 45.13 L340.00 45.12 L341.00 45.10 L342.00 45.08 L343.00 45.06 L344.00 45.05 L345.00 45.03 L346.00 45.01 L347.00 44.99 L348.00 44.98 L349.00 44.96 L350.00 44.94 L351.00 44.93 L352.00 44.91 L353.00 44.89 L354.00 44.88 L355.00 44.86 L356.00 44.84 L357.00 44.83 L358.00 44.81 L359.00 44.79 L360.00 44.78 L361.00 44.76 L362.00 44.75 L363.00 44.73 L364.00 44.71 L365.00 44.70 L366.00 44.68 L367.00 44.67 L368.00 44.65 L369.00 44.63 L370.00 44.62 L371.00 44.60 L372.00 44.59 L373.00 44.57 L374.00 44.56 L375.00 44.54 L376.00 44.53 L377.00 44.51 L378.00 44.49 L379.00 44.48 L380.00 44.46 L381.00 44.45 L382.00 44.43 L383.00 44.42 L384.00 44.40 L385.00 44.39 L386.00 44.37 L387.00 44.36 L388.00 44.34 L389.00 44.33 L390.00 44.31 L391.00 44.30 L392.00 44.28 L393.00 44.27 L394.00 44.25 L395.00 44.24 L396.00 44.22 L397.00 44.21 L398.00 44.19 L399.00 44.18 L400.00 44.16 L401.00 44.15 L402.00 44.13 L403.00 44.12 L404.00 44.10 L405.00 44.09 L406.00 44.07 L407.00 44.06 L408.00 44.04 L409.00 44.03 L410.00 44.01 L411.00 44.00 L412.00 43.98 L413.00 43.97 L414.00 43.95 L415.00 43.94 L416.00 43.92 L417.00 43.91 L418.00 43.89 L419.00 43.88 L420.00 43.87 L421.00 43.85 L422.00 43.84 L423.00 43.82 L424.00 43.81 L425.00 43.79 L426.00 43.78 L427.00 43.76 L427.50 43.75" fill="none" stroke="#000000" stroke-width="2.2" stroke-dasharray="11.309 3.803" stroke-dashoffset="0" stroke-linejoin="round"/>
<path d="M53.90 212.80 L54.15 212.70 L54.40 212.57 L54.65 212.41 L54.90 212.23 L55.15 212.03 L55.40 211.81 L55.65 211.55 L55.90 211.25 L56.15 210.92 L56.40 210.55 L56.65 210.15 L56.90 209.69 L57.15 209.17 L57.40 208.62 L57.65 208.06 L57.90 207.45 L58.15 206.81 L58.40 206.16 L58.65 205.50 L58.90 204.84 L59.15 204.16 L59.40 203.46 L59.65 202.76 L59.90 202.05 L60.15 201.33 L60.40 200.61 L60.65 199.89 L60.90 199.18 L61.15 198.46 L61.40 197.74 L61.65 197.01 L61.90 196.27 L62.15 195.51 L62.40 194.73 L62.65 193.93 L62.90 193.10 L63.15 192.23 L63.40 191.33 L63.65 190.39 L63.90 189.39 L64.15 188.36 L64.40 187.29 L64.65 186.19 L64.90 185.06 L65.15 183.91 L65.40 182.75 L65.65 181.58 L65.90 180.40 L66.15 179.18 L66.40 177.89 L66.65 176.57 L66.90 175.26 L67.15 173.99 L67.40 172.80 L67.65 171.68 L67.90 170.60 L68.15 169.55 L68.40 168.52 L68.65 167.52 L68.90 166.54 L69.15 165.57 L69.40 164.61 L69.65 163.65 L69.90 162.69 L70.15 161.74 L70.40 160.77 L70.65 159.80 L70.90 158.80 L71.15 157.79 L71.40 156.75 L71.65 155.70 L71.90 154.63 L72.15 153.56 L72.40 152.48 L72.65 151.41 L72.90 150.34 L73.15 149.29 L73.40 148.25 L73.65 147.24 L73.90 146.26 L74.15 145.31 L74.40 144.40 L74.65 143.53 L74.90 142.69 L75.15 141.88 L75.40 141.08 L75.65 140.31 L75.90 139.55 L76.15 138.80 L76.40 138.07 L76.65 137.35 L76.90 136.65 L77.15 135.95 L77.40 135.26 L77.65 134.58 L77.90 133.90 L78.15 133.22 L78.40 132.55 L78.65 131.88 L78.90 131.21 L79.15 130.54 L79.40 129.86 L79.65 129.19 L79.90 128.53 L80.15 127.87 L80.40 127.22 L80.65 126.57 L80.90 125.92 L81.15 125.28 L81.40 124.65 L81.65 124.01 L81.90 123.39 L82.15 122.76 L82.40 122.14 L82.65 121.52 L82.90 120.90 L83.15 120.29 L83.40 119.68 L83.65 119.07 L83.90 118.46 L84.15 117.84 L84.40 117.23 L84.65 116.61 L84.90 115.99 L85.15 115.36 L85.40 114.74 L85.65 114.12 L85.90 113.50 L86.15 112.89 L86.40 112.28 L86.65 111.68 L86.90 111.08 L87.15 110.49 L87.40 109.91 L87.65 109.34 L87.90 108.78 L88.15 108.23 L88.40 107.70 L88.65 107.18 L88.90 106.67 L89.15 106.18 L89.40 105.71 L89.65 105.25 L89.90 104.80 L90.15 104.36 L90.40 103.92 L90.65 103.49 L90.90 103.07 L91.15 102.66 L91.40 102.25 L91.65 101.86 L91.90 101.46 L92.15 101.08 L92.40 100.70 L92.65 100.32 L92.90 99.95 L93.15 99.59 L93.40 99.23 L93.65 98.88 L93.90 98.53 L94.15 98.18 L94.40 97.84 L94.65 97.50 L94.90 97.16 L95.15 96.83 L95.40 96.50 L95.65 96.18 L95.90 95.87 L96.15 95.55 L96.40 95.24 L96.65 94.94 L96.90 94.63 L97.15 94.34 L97.40 94.04 L97.65 93.75 L97.90 93.46 L98.15 93.18 L98.40 92.90 L98.65 92.62 L98.90 92.35 L99.15 92.08 L99.40 91.81 L99.65 91.55 L99.90 91.29 L100.15 91.03 L100.40 90.77 L100.65 90.52 L100.90 90.27 L101.15 90.02 L101.40 89.78 L101.65 89.53 L101.90 89.29 L102.15 89.05 L102.40 88.82 L102.65 88.59 L102.90 88.35 L103.15 88.13 L103.40 87.90 L103.65 87.67 L103.90 87.45 L104.15 87.23 L104.40 87.01 L104.65 86.79 L104.90 86.58 L105.15 86.36 L105.40 86.15 L105.65 85.94 L105.90 85.73 L106.15 85.52 L106.40 85.32 L106.65 85.11 L106.90 84.90 L107.15 84.70 L107.40 84.49 L107.65 84.29 L107.90 84.09 L108.15 83.89 L108.40 83.69 L108.65 83.49 L108.90 83.30 L109.15 83.11 L109.40 82.92 L109.65 82.73 L109.90 82.55 L110.15 82.37 L110.40 82.19 L110.65 82.02 L110.90 81.84 L111.15 81.68 L111.40 81.51 L111.65 81.36 L111.90 81.20 L112.15 81.05 L112.40 80.90 L112.65 80.75 L112.90 80.61 L113.15 80.47 L113.40 80.33 L113.65 80.19 L113.90 80.06 L114.15 79.92 L114.40 79.79 L114.65 79.66 L114.90 79.54 L115.15 79.41 L115.40 79.29 L115.65 79.16 L115.90 79.04 L116.15 78.92 L116.40 78.80 L116.65 78.68 L116.90 78.56 L117.15 78.44 L117.40 78.32 L117.65 78.20 L117.90 78.08 L118.15 77.96 L118.40 77.84 L118.65 77.72 L118.90 77.60 L119.15 77.48 L119.40 77.36 L119.65 77.24 L119.90 77.11 L120.15 76.99 L120.40 76.87 L120.65 76.75 L120.90 76.62 L121.15 76.50 L121.40 76.38 L121.65 76.26 L121.90 76.14 L122.15 76.02 L122.40 75.90 L122.65 75.79 L122.90 75.67 L123.15 75.55 L123.40 75.44 L123.65 75.32 L123.90 75.21 L124.15 75.10 L124.40 74.98 L124.65 74.87 L124.90 74.76 L125.15 74.65 L125.40 74.54 L125.65 74.44 L125.90 74.33 L126.15 74.23 L126.40 74.12 L126.65 74.02 L126.90 73.92 L127.15 73.81 L127.40 73.71 L127.65 73.61 L127.90 73.51 L128.15 73.42 L128.40 73.32 L128.65 73.22 L128.90 73.13 L129.15 73.03 L129.40 72.94 L129.65 72.85 L129.90 72.76 L130.15 72.68 L130.40 72.59 L130.65 72.51 L130.90 72.43 L131.15 72.35 L131.40 72.27 L131.65 72.19 L131.90 72.12 L132.15 72.05 L132.40 71.97 L132.65 71.90 L132.90 71.83 L133.15 71.76 L133.40 71.69 L133.65 71.62 L133.90 71.55 L134.15 71.48 L134.40 71.41 L134.65 71.34 L134.90 71.28 L135.00 71.25 L136.00 70.99 L137.00 70.74 L138.00 70.49 L139.00 70.25 L140.00 70.01 L141.00 69.78 L142.00 69.55 L143.00 69.33 L144.00 69.12 L145.00 68.91 L146.00 68.71 L147.00 68.52 L148.00 68.33 L149.00 68.15 L150.00 67.97 L151.00 67.80 L152.00 67.63 L153.00 67.47 L154.00 67.31 L155.00 67.16 L156.00 67.01 L157.00 66.86 L158.00 66.72 L159.00 66.59 L160.00 66.45 L161.00 66.32 L162.00 66.20 L163.00 66.07 L164.00 65.95 L165.00 65.84 L166.00 65.72 L167.00 65.61 L168.00 65.50 L169.00 65.40 L170.00 65.30 L171.00 65.20 L172.00 65.10 L173.00 65.00 L174.00 64.91 L175.00 64.82 L176.00 64.73 L177.00 64.65 L178.00 64.57 L179.00 64.48 L180.00 64.40 L181.00 64.33 L182.00 64.25 L183.00 64.18 L184.00 64.11 L185.00 64.04 L186.00 63.97 L187.00 63.90 L188.00 63.83 L189.00 63.77 L190.00 63.71 L191.00 63.65 L192.00 63.59 L193.00 63.53 L194.00 63.47 L195.00 63.42 L196.00 63.36 L197.00 63.31 L198.00 63.26 L199.00 63.21 L200.00 63.16 L201.00 63.11 L202.00 63.06 L203.00 63.01 L204.00 62.97 L205.00 62.92 L206.00 62.88 L207.00 62.84 L208.00 62.79 L209.00 62.75 L210.00 62.71 L211.00 62.67 L212.00 62.63 L213.00 62.60 L214.00 62.56 L215.00 62.52 L216.00 62.49 L217.00 62.45 L218.00 62.42 L219.00 62.38 L220.00 62.35 L221.00 62.32 L222.00 62.29 L223.00 62.26 L224.00 62.23 L225.00 62.20 L226.00 62.17 L227.00 62.14 L228.00 62.11 L229.00 62.08 L230.00 62.05 L231.00 62.03 L232.00 62.00 L233.00 61.98 L234.00 61.95 L235.00 61.92 L236.00 61.90 L237.00 61.88 L238.00 61.85 L239.00 61.83 L240.00 61.81 L241.00 61.78 L242.00 61.76 L243.00 61.74 L244.00 61.72 L245.00 61.70 L246.00 61.67 L247.00 61.65 L248.00 61.63 L249.00 61.61 L250.00 61.59 L251.00 61.57 L252.00 61.56 L253.00 61.54 L254.00 61.52 L255.00 61.50 L256.00 61.48 L257.00 61.46 L258.00 61.45 L259.00 61.43 L260.00 61.41 L261.00 61.39 L262.00 61.38 L263.00 61.36 L264.00 61.34 L265.00 61.33 L266.00 61.31 L267.00 61.30 L268.00 61.28 L269.00 61.27 L270.00 61.25 L271.00 61.23 L272.00 61.22 L273.00 61.20 L274.00 61.19 L275.00 61.18 L276.00 61.16 L277.00 61.15 L278.00 61.13 L279.00 61.12 L280.00 61.10 L281.00 61.09 L282.00 61.08 L283.00 61.06 L284.00 61.05 L285.00 61.04 L286.00 61.02 L287.00 61.01 L288.00 61.00 L289.00 60.98 L290.00 60.97 L291.00 60.96 L292.00 60.95 L293.00 60.93 L294.00 60.92 L295.00 60.91 L296.00 60.90 L297.00 60.88 L298.00 60.87 L299.00 60.86 L300.00 60.85 L301.00 60.84 L302.00 60.82 L303.00 60.81 L304.00 60.80 L305.00 60.79 L306.00 60.78 L307.00 60.76 L308.00 60.75 L309.00 60.74 L310.00 60.73 L311.00 60.72 L312.00 60.71 L313.00 60.69 L314.00 60.68 L315.00 60.67 L316.00 60.66 L317.00 60.65 L318.00 60.64 L319.00 60.63 L320.00 60.61 L321.00 60.60 L322.00 60.59 L323.00 60.58 L324.00 60.57 L325.00 60.56 L326.00 60.55 L327.00 60.53 L328.00 60.52 L329.00 60.51 L330.00 60.50 L331.00 60.49 L332.00 60.48 L333.00 60.47 L334.00 60.46 L335.00 60.45 L336.00 60.43 L337.00 60.42 L338.00 60.41 L339.00 60.40 L340.00 60.39 L341.00 60.38 L342.00 60.37 L343.00 60.36 L344.00 60.34 L345.00 60.33 L346.00 60.32 L347.00 60.31 L348.00 60.30 L349.00 60.29 L350.00 60.28 L351.00 60.27 L352.00 60.25 L353.00 60.24 L354.00 60.23 L355.00 60.22 L356.00 60.21 L357.00 60.20 L358.00 60.19 L359.00 60.17 L360.00 60.16 L361.00 60.15 L362.00 60.14 L363.00 60.13 L364.00 60.12 L365.00 60.11 L366.00 60.09 L367.00 60.08 L368.00 60.07 L369.00 60.06 L370.00 60.05 L371.00 60.04 L372.00 60.02 L373.00 60.01 L374.00 60.00 L375.00 59.99 L376.00 59.98 L377.00 59.97 L378.00 59.95 L379.00 59.94 L380.00 59.93 L381.00 59.92 L382.00 59.91 L383.00 59.89 L384.00 59.88 L385.00 59.87 L386.00 59.86 L387.00 59.84 L388.00 59.83 L389.00 59.82 L390.00 59.81 L391.00 59.80 L392.00 59.78 L393.00 59.77 L394.00 59.76 L395.00 59.75 L396.00 59.73 L397.00 59.72 L398.00 59.71 L399.00 59.70 L400.00 59.68 L401.00 59.67 L402.00 59.66 L403.00 59.65 L404.00 59.63 L405.00 59.62 L406.00 59.61 L407.00 59.59 L408.00 59.58 L409.00 59.57 L410.00 59.56 L411.00 59.54 L412.00 59.53 L413.00 59.52 L414.00 59.50 L415.00 59.49 L416.00 59.48 L417.00 59.46 L418.00 59.45 L419.00 59.44 L420.00 59.42 L421.00 59.41 L422.00 59.40 L423.00 59.38 L424.00 59.37 L425.00 59.36 L426.00 59.34 L427.00 59.33 L427.50 59.32" fill="none" stroke="#00b900" stroke-width="2.2" stroke-dasharray="16.952 3.620" stroke-dashoffset="0" stroke-linejoin="round"/>
<path d="M53.90 231.70 L54.15 231.34 L54.40 230.92 L54.65 230.43 L54.90 229.89 L55.15 229.31 L55.40 228.70 L55.65 228.02 L55.90 227.23 L56.15 226.38 L56.40 225.50 L56.65 224.58 L56.90 223.61 L57.15 222.59 L57.40 221.50 L57.65 220.32 L57.90 219.04 L58.15 217.75 L58.40 216.54 L58.65 215.42 L58.90 214.27 L59.15 212.97 L59.40 211.40 L59.65 209.13 L59.90 206.50 L60.15 203.97 L60.40 201.37 L60.65 198.74 L60.90 196.12 L61.15 193.55 L61.40 191.07 L61.65 188.72 L61.90 186.55 L62.15 184.55 L62.40 182.67 L62.65 180.84 L62.90 179.05 L63.15 177.30 L63.40 175.58 L63.65 173.90 L63.90 172.23 L64.15 170.59 L64.40 168.95 L64.65 167.32 L64.90 165.69 L65.15 164.05 L65.40 162.40 L65.65 160.73 L65.90 159.06 L66.15 157.41 L66.40 155.80 L66.65 154.21 L66.90 152.61 L67.15 151.00 L67.40 149.40 L67.65 147.81 L67.90 146.24 L68.15 144.71 L68.40 143.22 L68.65 141.78 L68.90 140.40 L69.15 139.09 L69.40 137.87 L69.65 136.73 L69.90 135.67 L70.15 134.68 L70.40 133.73 L70.65 132.82 L70.90 131.92 L71.15 131.02 L71.40 130.12 L71.65 129.23 L71.90 128.33 L72.15 127.45 L72.40 126.57 L72.65 125.69 L72.90 124.82 L73.15 123.96 L73.40 123.11 L73.65 122.26 L73.90 121.43 L74.15 120.60 L74.40 119.79 L74.65 118.98 L74.90 118.19 L75.15 117.41 L75.40 116.65 L75.65 115.89 L75.90 115.16 L76.15 114.43 L76.40 113.73 L76.65 113.04 L76.90 112.36 L77.15 111.71 L77.40 111.07 L77.65 110.45 L77.90 109.85 L78.15 109.27 L78.40 108.72 L78.65 108.20 L78.90 107.70 L79.15 107.22 L79.40 106.76 L79.65 106.32 L79.90 105.88 L80.15 105.46 L80.40 105.03 L80.65 104.62 L80.90 104.21 L81.15 103.82 L81.40 103.43 L81.65 103.05 L81.90 102.67 L82.15 102.28 L82.40 101.89 L82.65 101.50 L82.90 101.10 L83.15 100.68 L83.40 100.25 L83.65 99.78 L83.90 99.29 L84.15 98.79 L84.40 98.31 L84.65 97.85 L84.90 97.43 L85.15 97.06 L85.40 96.75 L85.65 96.46 L85.90 96.18 L86.15 95.92 L86.40 95.68 L86.65 95.44 L86.90 95.22 L87.15 95.00 L87.40 94.79 L87.65 94.59 L87.90 94.38 L88.15 94.18 L88.40 93.97 L88.65 93.77 L88.90 93.55 L89.15 93.34 L89.40 93.11 L89.65 92.88 L89.90 92.64 L90.15 92.41 L90.40 92.18 L90.65 91.95 L90.90 91.72 L91.15 91.51 L91.40 91.30 L91.65 91.10 L91.90 90.90 L92.15 90.70 L92.40 90.51 L92.65 90.32 L92.90 90.13 L93.15 89.94 L93.40 89.76 L93.65 89.58 L93.90 89.40 L94.15 89.22 L94.40 89.05 L94.65 88.88 L94.90 88.71 L95.15 88.54 L95.40 88.38 L95.65 88.22 L95.90 88.06 L96.15 87.91 L96.40 87.76 L96.65 87.61 L96.90 87.46 L97.15 87.32 L97.40 87.17 L97.65 87.03 L97.90 86.89 L98.15 86.75 L98.40 86.61 L98.65 86.47 L98.90 86.34 L99.15 86.21 L99.40 86.08 L99.65 85.95 L99.90 85.83 L100.15 85.71 L100.40 85.60 L100.65 85.48 L100.90 85.38 L101.15 85.27 L101.40 85.18 L101.65 85.08 L101.90 84.99 L102.15 84.90 L102.40 84.82 L102.65 84.74 L102.90 84.66 L103.15 84.58 L103.40 84.50 L103.65 84.43 L103.90 84.36 L104.15 84.29 L104.40 84.22 L104.65 84.15 L104.90 84.09 L105.15 84.02 L105.40 83.96 L105.65 83.89 L105.90 83.83 L106.15 83.76 L106.40 83.70 L106.65 83.64 L106.90 83.57 L107.15 83.51 L107.40 83.45 L107.65 83.39 L107.90 83.33 L108.15 83.27 L108.40 83.21 L108.65 83.15 L108.90 83.09 L109.15 83.03 L109.40 82.97 L109.65 82.91 L109.90 82.86 L110.15 82.80 L110.40 82.74 L110.65 82.69 L110.90 82.63 L111.15 82.58 L111.40 82.52 L111.65 82.47 L111.90 82.42 L112.15 82.37 L112.40 82.32 L112.65 82.26 L112.90 82.21 L113.15 82.16 L113.40 82.12 L113.65 82.07 L113.90 82.02 L114.15 81.97 L114.40 81.93 L114.65 81.88 L114.90 81.83 L115.15 81.79 L115.40 81.75 L115.65 81.70 L115.90 81.66 L116.15 81.62 L116.40 81.58 L116.65 81.53 L116.90 81.49 L117.15 81.45 L117.40 81.41 L117.65 81.37 L117.90 81.33 L118.15 81.28 L118.40 81.24 L118.65 81.20 L118.90 81.16 L119.15 81.12 L119.40 81.07 L119.65 81.03 L119.90 80.99 L120.15 80.95 L120.40 80.90 L120.65 80.86 L120.90 80.82 L121.15 80.77 L121.40 80.73 L121.65 80.69 L121.90 80.65 L122.15 80.60 L122.40 80.56 L122.65 80.52 L122.90 80.48 L123.15 80.43 L123.40 80.39 L123.65 80.35 L123.90 80.31 L124.15 80.27 L124.40 80.23 L124.65 80.19 L124.90 80.15 L125.15 80.11 L125.40 80.07 L125.65 80.03 L125.90 79.99 L126.15 79.95 L126.40 79.91 L126.65 79.87 L126.90 79.84 L127.15 79.80 L127.40 79.76 L127.65 79.72 L127.90 79.69 L128.15 79.65 L128.40 79.61 L128.65 79.58 L128.90 79.54 L129.15 79.51 L129.40 79.47 L129.65 79.44 L129.90 79.40 L130.15 79.37 L130.40 79.34 L130.65 79.30 L130.90 79.27 L131.15 79.24 L131.40 79.21 L131.65 79.18 L131.90 79.15 L132.15 79.12 L132.40 79.09 L132.65 79.07 L132.90 79.04 L133.15 79.01 L133.40 78.99 L133.65 78.96 L133.90 78.94 L134.15 78.91 L134.40 78.89 L134.65 78.86 L134.90 78.84 L135.00 78.83 L136.00 78.74 L137.00 78.66 L138.00 78.58 L139.00 78.50 L140.00 78.41 L141.00 78.34 L142.00 78.26 L143.00 78.18 L144.00 78.11 L145.00 78.04 L146.00 77.97 L147.00 77.91 L148.00 77.84 L149.00 77.78 L150.00 77.72 L151.00 77.67 L152.00 77.61 L153.00 77.55 L154.00 77.50 L155.00 77.45 L156.00 77.40 L157.00 77.35 L158.00 77.30 L159.00 77.26 L160.00 77.21 L161.00 77.17 L162.00 77.13 L163.00 77.09 L164.00 77.05 L165.00 77.01 L166.00 76.97 L167.00 76.93 L168.00 76.90 L169.00 76.86 L170.00 76.83 L171.00 76.80 L172.00 76.77 L173.00 76.73 L174.00 76.70 L175.00 76.68 L176.00 76.65 L177.00 76.62 L178.00 76.59 L179.00 76.56 L180.00 76.54 L181.00 76.51 L182.00 76.49 L183.00 76.47 L184.00 76.44 L185.00 76.42 L186.00 76.40 L187.00 76.38 L188.00 76.36 L189.00 76.33 L190.00 76.31 L191.00 76.30 L192.00 76.28 L193.00 76.26 L194.00 76.24 L195.00 76.22 L196.00 76.20 L197.00 76.19 L198.00 76.17 L199.00 76.16 L200.00 76.14 L201.00 76.12 L202.00 76.11 L203.00 76.10 L204.00 76.08 L205.00 76.07 L206.00 76.05 L207.00 76.04 L208.00 76.03 L209.00 76.02 L210.00 76.00 L211.00 75.99 L212.00 75.98 L213.00 75.97 L214.00 75.96 L215.00 75.94 L216.00 75.93 L217.00 75.92 L218.00 75.91 L219.00 75.90 L220.00 75.89 L221.00 75.88 L222.00 75.87 L223.00 75.86 L224.00 75.86 L225.00 75.85 L226.00 75.84 L227.00 75.83 L228.00 75.82 L229.00 75.81 L230.00 75.80 L231.00 75.80 L232.00 75.79 L233.00 75.78 L234.00 75.77 L235.00 75.77 L236.00 75.76 L237.00 75.75 L238.00 75.75 L239.00 75.74 L240.00 75.73 L241.00 75.73 L242.00 75.72 L243.00 75.71 L244.00 75.71 L245.00 75.70 L246.00 75.70 L247.00 75.69 L248.00 75.68 L249.00 75.68 L250.00 75.67 L251.00 75.67 L252.00 75.66 L253.00 75.66 L254.00 75.65 L255.00 75.65 L256.00 75.64 L257.00 75.64 L258.00 75.63 L259.00 75.63 L260.00 75.62 L261.00 75.62 L262.00 75.61 L263.00 75.61 L264.00 75.60 L265.00 75.60 L266.00 75.59 L267.00 75.59 L268.00 75.59 L269.00 75.58 L270.00 75.58 L271.00 75.57 L272.00 75.57 L273.00 75.56 L274.00 75.56 L275.00 75.56 L276.00 75.55 L277.00 75.55 L278.00 75.55 L279.00 75.54 L280.00 75.54 L281.00 75.53 L282.00 75.53 L283.00 75.53 L284.00 75.52 L285.00 75.52 L286.00 75.52 L287.00 75.51 L288.00 75.51 L289.00 75.51 L290.00 75.50 L291.00 75.50 L292.00 75.50 L293.00 75.49 L294.00 75.49 L295.00 75.49 L296.00 75.48 L297.00 75.48 L298.00 75.48 L299.00 75.47 L300.00 75.47 L301.00 75.47 L302.00 75.46 L303.00 75.46 L304.00 75.46 L305.00 75.45 L306.00 75.45 L307.00 75.45 L308.00 75.44 L309.00 75.44 L310.00 75.44 L311.00 75.43 L312.00 75.43 L313.00 75.43 L314.00 75.42 L315.00 75.42 L316.00 75.42 L317.00 75.41 L318.00 75.41 L319.00 75.41 L320.00 75.41 L321.00 75.40 L322.00 75.40 L323.00 75.40 L324.00 75.39 L325.00 75.39 L326.00 75.39 L327.00 75.38 L328.00 75.38 L329.00 75.38 L330.00 75.37 L331.00 75.37 L332.00 75.37 L333.00 75.36 L334.00 75.36 L335.00 75.36 L336.00 75.36 L337.00 75.35 L338.00 75.35 L339.00 75.35 L340.00 75.34 L341.00 75.34 L342.00 75.34 L343.00 75.33 L344.00 75.33 L345.00 75.33 L346.00 75.32 L347.00 75.32 L348.00 75.32 L349.00 75.31 L350.00 75.31 L351.00 75.31 L352.00 75.30 L353.00 75.30 L354.00 75.30 L355.00 75.29 L356.00 75.29 L357.00 75.29 L358.00 75.28 L359.00 75.28 L360.00 75.28 L361.00 75.27 L362.00 75.27 L363.00 75.27 L364.00 75.26 L365.00 75.26 L366.00 75.26 L367.00 75.25 L368.00 75.25 L369.00 75.25 L370.00 75.24 L371.00 75.24 L372.00 75.24 L373.00 75.23 L374.00 75.23 L375.00 75.23 L376.00 75.22 L377.00 75.22 L378.00 75.22 L379.00 75.21 L380.00 75.21 L381.00 75.21 L382.00 75.20 L383.00 75.20 L384.00 75.19 L385.00 75.19 L386.00 75.19 L387.00 75.18 L388.00 75.18 L389.00 75.18 L390.00 75.17 L391.00 75.17 L392.00 75.16 L393.00 75.16 L394.00 75.16 L395.00 75.15 L396.00 75.15 L397.00 75.15 L398.00 75.14 L399.00 75.14 L400.00 75.13 L401.00 75.13 L402.00 75.13 L403.00 75.12 L404.00 75.12 L405.00 75.11 L406.00 75.11 L407.00 75.11 L408.00 75.10 L409.00 75.10 L410.00 75.09 L411.00 75.09 L412.00 75.09 L413.00 75.08 L414.00 75.08 L415.00 75.07 L416.00 75.07 L417.00 75.06 L418.00 75.06 L419.00 75.06 L420.00 75.05 L421.00 75.05 L422.00 75.04 L423.00 75.04 L424.00 75.03 L425.00 75.03 L426.00 75.03 L427.00 75.02 L427.50 75.02" fill="none" stroke="#784e28" stroke-width="2.2" stroke-dasharray="21.386 3.879" stroke-dashoffset="0" stroke-linejoin="round"/>
<path d="M46.5 2.9 H434.5" fill="none" stroke="#787878" stroke-width="1.15"/>
<path d="M434.5 2.4 V242.5" fill="none" stroke="#808080" stroke-width="1"/>
<line x1="54.50" y1="242.50" x2="54.50" y2="240.00" stroke="#b4b4b4" stroke-width="1.0"/>
<line x1="54.50" y1="2.90" x2="54.50" y2="5.70" stroke="#b4b4b4" stroke-width="1.0"/>
<line x1="71.50" y1="242.50" x2="71.50" y2="240.00" stroke="#626262" stroke-width="1.0"/>
<line x1="71.50" y1="2.90" x2="71.50" y2="5.70" stroke="#b4b4b4" stroke-width="1.0"/>
<line x1="88.50" y1="242.50" x2="88.50" y2="238.90" stroke="#626262" stroke-width="1.0"/>
<line x1="88.50" y1="2.90" x2="88.50" y2="6.80" stroke="#b4b4b4" stroke-width="1.0"/>
<line x1="105.50" y1="242.50" x2="105.50" y2="240.00" stroke="#626262" stroke-width="1.0"/>
<line x1="105.50" y1="2.90" x2="105.50" y2="5.70" stroke="#b4b4b4" stroke-width="1.0"/>
<line x1="121.50" y1="242.50" x2="121.50" y2="240.00" stroke="#626262" stroke-width="1.0"/>
<line x1="121.50" y1="2.90" x2="121.50" y2="5.70" stroke="#b4b4b4" stroke-width="1.0"/>
<line x1="138.50" y1="242.50" x2="138.50" y2="240.00" stroke="#626262" stroke-width="1.0"/>
<line x1="138.50" y1="2.90" x2="138.50" y2="5.70" stroke="#b4b4b4" stroke-width="1.0"/>
<line x1="155.50" y1="242.50" x2="155.50" y2="238.90" stroke="#626262" stroke-width="1.0"/>
<line x1="155.50" y1="2.90" x2="155.50" y2="6.80" stroke="#b4b4b4" stroke-width="1.0"/>
<line x1="172.50" y1="242.50" x2="172.50" y2="240.00" stroke="#626262" stroke-width="1.0"/>
<line x1="172.50" y1="2.90" x2="172.50" y2="5.70" stroke="#b4b4b4" stroke-width="1.0"/>
<line x1="189.50" y1="242.50" x2="189.50" y2="240.00" stroke="#626262" stroke-width="1.0"/>
<line x1="189.50" y1="2.90" x2="189.50" y2="5.70" stroke="#b4b4b4" stroke-width="1.0"/>
<line x1="206.50" y1="242.50" x2="206.50" y2="240.00" stroke="#626262" stroke-width="1.0"/>
<line x1="206.50" y1="2.90" x2="206.50" y2="5.70" stroke="#b4b4b4" stroke-width="1.0"/>
<line x1="223.50" y1="242.50" x2="223.50" y2="238.90" stroke="#626262" stroke-width="1.0"/>
<line x1="223.50" y1="2.90" x2="223.50" y2="6.80" stroke="#b4b4b4" stroke-width="1.0"/>
<line x1="240.50" y1="242.50" x2="240.50" y2="240.00" stroke="#626262" stroke-width="1.0"/>
<line x1="240.50" y1="2.90" x2="240.50" y2="5.70" stroke="#b4b4b4" stroke-width="1.0"/>
<line x1="257.50" y1="242.50" x2="257.50" y2="240.00" stroke="#626262" stroke-width="1.0"/>
<line x1="257.50" y1="2.90" x2="257.50" y2="5.70" stroke="#b4b4b4" stroke-width="1.0"/>
<line x1="274.50" y1="242.50" x2="274.50" y2="240.00" stroke="#626262" stroke-width="1.0"/>
<line x1="274.50" y1="2.90" x2="274.50" y2="5.70" stroke="#b4b4b4" stroke-width="1.0"/>
<line x1="291.50" y1="242.50" x2="291.50" y2="238.90" stroke="#626262" stroke-width="1.0"/>
<line x1="291.50" y1="2.90" x2="291.50" y2="6.80" stroke="#b4b4b4" stroke-width="1.0"/>
<line x1="308.50" y1="242.50" x2="308.50" y2="240.00" stroke="#626262" stroke-width="1.0"/>
<line x1="308.50" y1="2.90" x2="308.50" y2="5.70" stroke="#b4b4b4" stroke-width="1.0"/>
<line x1="324.50" y1="242.50" x2="324.50" y2="240.00" stroke="#626262" stroke-width="1.0"/>
<line x1="324.50" y1="2.90" x2="324.50" y2="5.70" stroke="#b4b4b4" stroke-width="1.0"/>
<line x1="341.50" y1="242.50" x2="341.50" y2="240.00" stroke="#626262" stroke-width="1.0"/>
<line x1="341.50" y1="2.90" x2="341.50" y2="5.70" stroke="#b4b4b4" stroke-width="1.0"/>
<line x1="358.50" y1="242.50" x2="358.50" y2="238.90" stroke="#626262" stroke-width="1.0"/>
<line x1="358.50" y1="2.90" x2="358.50" y2="6.80" stroke="#b4b4b4" stroke-width="1.0"/>
<line x1="375.50" y1="242.50" x2="375.50" y2="240.00" stroke="#626262" stroke-width="1.0"/>
<line x1="375.50" y1="2.90" x2="375.50" y2="5.70" stroke="#b4b4b4" stroke-width="1.0"/>
<line x1="392.50" y1="242.50" x2="392.50" y2="240.00" stroke="#626262" stroke-width="1.0"/>
<line x1="392.50" y1="2.90" x2="392.50" y2="5.70" stroke="#b4b4b4" stroke-width="1.0"/>
<line x1="409.50" y1="242.50" x2="409.50" y2="240.00" stroke="#626262" stroke-width="1.0"/>
<line x1="409.50" y1="2.90" x2="409.50" y2="5.70" stroke="#b4b4b4" stroke-width="1.0"/>
<line x1="426.50" y1="242.50" x2="426.50" y2="238.90" stroke="#626262" stroke-width="1.0"/>
<line x1="426.50" y1="2.90" x2="426.50" y2="6.80" stroke="#b4b4b4" stroke-width="1.0"/>
<line x1="46.50" y1="4.50" x2="50.10" y2="4.50" stroke="#626262" stroke-width="1.0"/>
<line x1="434.50" y1="4.50" x2="430.60" y2="4.50" stroke="#b4b4b4" stroke-width="1.0"/>
<line x1="46.50" y1="16.50" x2="49.00" y2="16.50" stroke="#626262" stroke-width="1.0"/>
<line x1="434.50" y1="16.50" x2="431.70" y2="16.50" stroke="#b4b4b4" stroke-width="1.0"/>
<line x1="46.50" y1="27.50" x2="49.00" y2="27.50" stroke="#626262" stroke-width="1.0"/>
<line x1="434.50" y1="27.50" x2="431.70" y2="27.50" stroke="#b4b4b4" stroke-width="1.0"/>
<line x1="46.50" y1="39.50" x2="49.00" y2="39.50" stroke="#626262" stroke-width="1.0"/>
<line x1="434.50" y1="39.50" x2="431.70" y2="39.50" stroke="#b4b4b4" stroke-width="1.0"/>
<line x1="46.50" y1="51.50" x2="50.10" y2="51.50" stroke="#626262" stroke-width="1.0"/>
<line x1="434.50" y1="51.50" x2="430.60" y2="51.50" stroke="#b4b4b4" stroke-width="1.0"/>
<line x1="46.50" y1="63.50" x2="49.00" y2="63.50" stroke="#626262" stroke-width="1.0"/>
<line x1="434.50" y1="63.50" x2="431.70" y2="63.50" stroke="#b4b4b4" stroke-width="1.0"/>
<line x1="46.50" y1="74.50" x2="49.00" y2="74.50" stroke="#626262" stroke-width="1.0"/>
<line x1="434.50" y1="74.50" x2="431.70" y2="74.50" stroke="#b4b4b4" stroke-width="1.0"/>
<line x1="46.50" y1="86.50" x2="49.00" y2="86.50" stroke="#626262" stroke-width="1.0"/>
<line x1="434.50" y1="86.50" x2="431.70" y2="86.50" stroke="#b4b4b4" stroke-width="1.0"/>
<line x1="46.50" y1="98.50" x2="50.10" y2="98.50" stroke="#626262" stroke-width="1.0"/>
<line x1="434.50" y1="98.50" x2="430.60" y2="98.50" stroke="#b4b4b4" stroke-width="1.0"/>
<line x1="46.50" y1="110.50" x2="49.00" y2="110.50" stroke="#626262" stroke-width="1.0"/>
<line x1="434.50" y1="110.50" x2="431.70" y2="110.50" stroke="#b4b4b4" stroke-width="1.0"/>
<line x1="46.50" y1="121.50" x2="49.00" y2="121.50" stroke="#626262" stroke-width="1.0"/>
<line x1="434.50" y1="121.50" x2="431.70" y2="121.50" stroke="#b4b4b4" stroke-width="1.0"/>
<line x1="46.50" y1="133.50" x2="49.00" y2="133.50" stroke="#626262" stroke-width="1.0"/>
<line x1="434.50" y1="133.50" x2="431.70" y2="133.50" stroke="#b4b4b4" stroke-width="1.0"/>
<line x1="46.50" y1="145.50" x2="50.10" y2="145.50" stroke="#626262" stroke-width="1.0"/>
<line x1="434.50" y1="145.50" x2="430.60" y2="145.50" stroke="#b4b4b4" stroke-width="1.0"/>
<line x1="46.50" y1="157.50" x2="49.00" y2="157.50" stroke="#626262" stroke-width="1.0"/>
<line x1="434.50" y1="157.50" x2="431.70" y2="157.50" stroke="#b4b4b4" stroke-width="1.0"/>
<line x1="46.50" y1="168.50" x2="49.00" y2="168.50" stroke="#626262" stroke-width="1.0"/>
<line x1="434.50" y1="168.50" x2="431.70" y2="168.50" stroke="#b4b4b4" stroke-width="1.0"/>
<line x1="46.50" y1="180.50" x2="49.00" y2="180.50" stroke="#626262" stroke-width="1.0"/>
<line x1="434.50" y1="180.50" x2="431.70" y2="180.50" stroke="#b4b4b4" stroke-width="1.0"/>
<line x1="46.50" y1="192.50" x2="50.10" y2="192.50" stroke="#626262" stroke-width="1.0"/>
<line x1="434.50" y1="192.50" x2="430.60" y2="192.50" stroke="#b4b4b4" stroke-width="1.0"/>
<line x1="46.50" y1="204.50" x2="49.00" y2="204.50" stroke="#626262" stroke-width="1.0"/>
<line x1="434.50" y1="204.50" x2="431.70" y2="204.50" stroke="#b4b4b4" stroke-width="1.0"/>
<line x1="46.50" y1="215.50" x2="49.00" y2="215.50" stroke="#626262" stroke-width="1.0"/>
<line x1="434.50" y1="215.50" x2="431.70" y2="215.50" stroke="#b4b4b4" stroke-width="1.0"/>
<line x1="46.50" y1="227.50" x2="49.00" y2="227.50" stroke="#626262" stroke-width="1.0"/>
<line x1="434.50" y1="227.50" x2="431.70" y2="227.50" stroke="#b4b4b4" stroke-width="1.0"/>
<line x1="46.50" y1="239.50" x2="50.10" y2="239.50" stroke="#b4b4b4" stroke-width="1.0"/>
<line x1="434.50" y1="239.50" x2="430.60" y2="239.50" stroke="#b4b4b4" stroke-width="1.0"/>
<path d="M46.5 2.3 V242.5 H435.0" fill="none" stroke="#555" stroke-width="1"/>
<path d="M270 111.0H273 M275 111.0H280.2 M282.1 111.0H284.7 M286.2 111.0H291.7 M293.7 111.0H296.1 M297.8 111.0H303.3" stroke="#0000b4" stroke-width="2.0" fill="none"/>
<line x1="270" y1="133.9" x2="304.2" y2="133.9" stroke="#ac0000" stroke-width="2.0" stroke-dasharray="5.6 1.5" stroke-dashoffset="0"/>
<line x1="270" y1="156.7" x2="306" y2="156.7" stroke="#ff00d8" stroke-width="2.0" stroke-dasharray="6.5 1.27" stroke-dashoffset="0"/>
<line x1="270" y1="179.4" x2="306" y2="179.4" stroke="#000000" stroke-width="2.0" stroke-dasharray="9.4 1.3" stroke-dashoffset="0"/>
<line x1="270" y1="202.2" x2="306" y2="202.2" stroke="#00b900" stroke-width="2.0" stroke-dasharray="14 1.5" stroke-dashoffset="0"/>
<line x1="270" y1="225.05" x2="306" y2="225.05" stroke="#784e28" stroke-width="2.0" stroke-dasharray="17.2 1.6" stroke-dashoffset="0"/>
<text transform="translate(7.4,133.8) rotate(-90) scale(1.17,1)" font-family="Liberation Sans, sans-serif" font-weight="bold" font-size="11.2" fill="#000">w</text>
<text transform="translate(8.9,123.5) rotate(-90) scale(1.03,1)" font-family="Liberation Sans, sans-serif" font-weight="bold" font-size="8.8" fill="#000">eff</text>
</svg>
<div class="t yl" style="top:-2.16px">0.0</div>
<div class="t yl" style="top:44.82px">–0.2</div>
<div class="t yl" style="top:91.80px">–0.4</div>
<div class="t yl" style="top:138.78px">–0.6</div>
<div class="t yl" style="top:185.76px">–0.8</div>
<div class="t yl" style="top:232.74px">–1.0</div>
<div class="t xl" style="left:88.10px;top:247.84px">0</div>
<div class="t xl" style="left:155.78px;top:247.84px">2</div>
<div class="t xl" style="left:223.46px;top:247.84px">4</div>
<div class="t xl" style="left:291.14px;top:247.84px">6</div>
<div class="t xl" style="left:358.82px;top:247.84px">8</div>
<div class="t xl" style="left:426.50px;top:247.84px">10</div>
<div class="t xl" style="left:240.5px;top:270.74px">z</div>
<div class="t lg" style="left:310.3px;top:102.74px"><span class="al">α</span>=–190</div>
<div class="t lg" style="left:375.5px;top:102.74px">n=0.50</div>
<div class="t lg" style="left:310.3px;top:125.64px"><span class="al">α</span>=–280</div>
<div class="t lg" style="left:375.5px;top:125.64px">n=0.45</div>
<div class="t lg" style="left:310.3px;top:148.44px"><span class="al">α</span>=–500</div>
<div class="t lg" style="left:375.5px;top:148.44px">n=0.35</div>
<div class="t lg" style="left:310.3px;top:171.14px"><span class="al">α</span>=–970</div>
<div class="t lg" style="left:375.5px;top:171.14px">n=0.25</div>
<div class="t lg" style="left:310.3px;top:193.94px"><span class="al">α</span>=–1800</div>
<div class="t lg" style="left:375.5px;top:193.94px">n=0.15</div>
<div class="t lg" style="left:310.3px;top:216.79px"><span class="al">α</span>=–2000</div>
<div class="t lg" style="left:375.5px;top:216.79px">n=0.05</div>
</div></body></html>
